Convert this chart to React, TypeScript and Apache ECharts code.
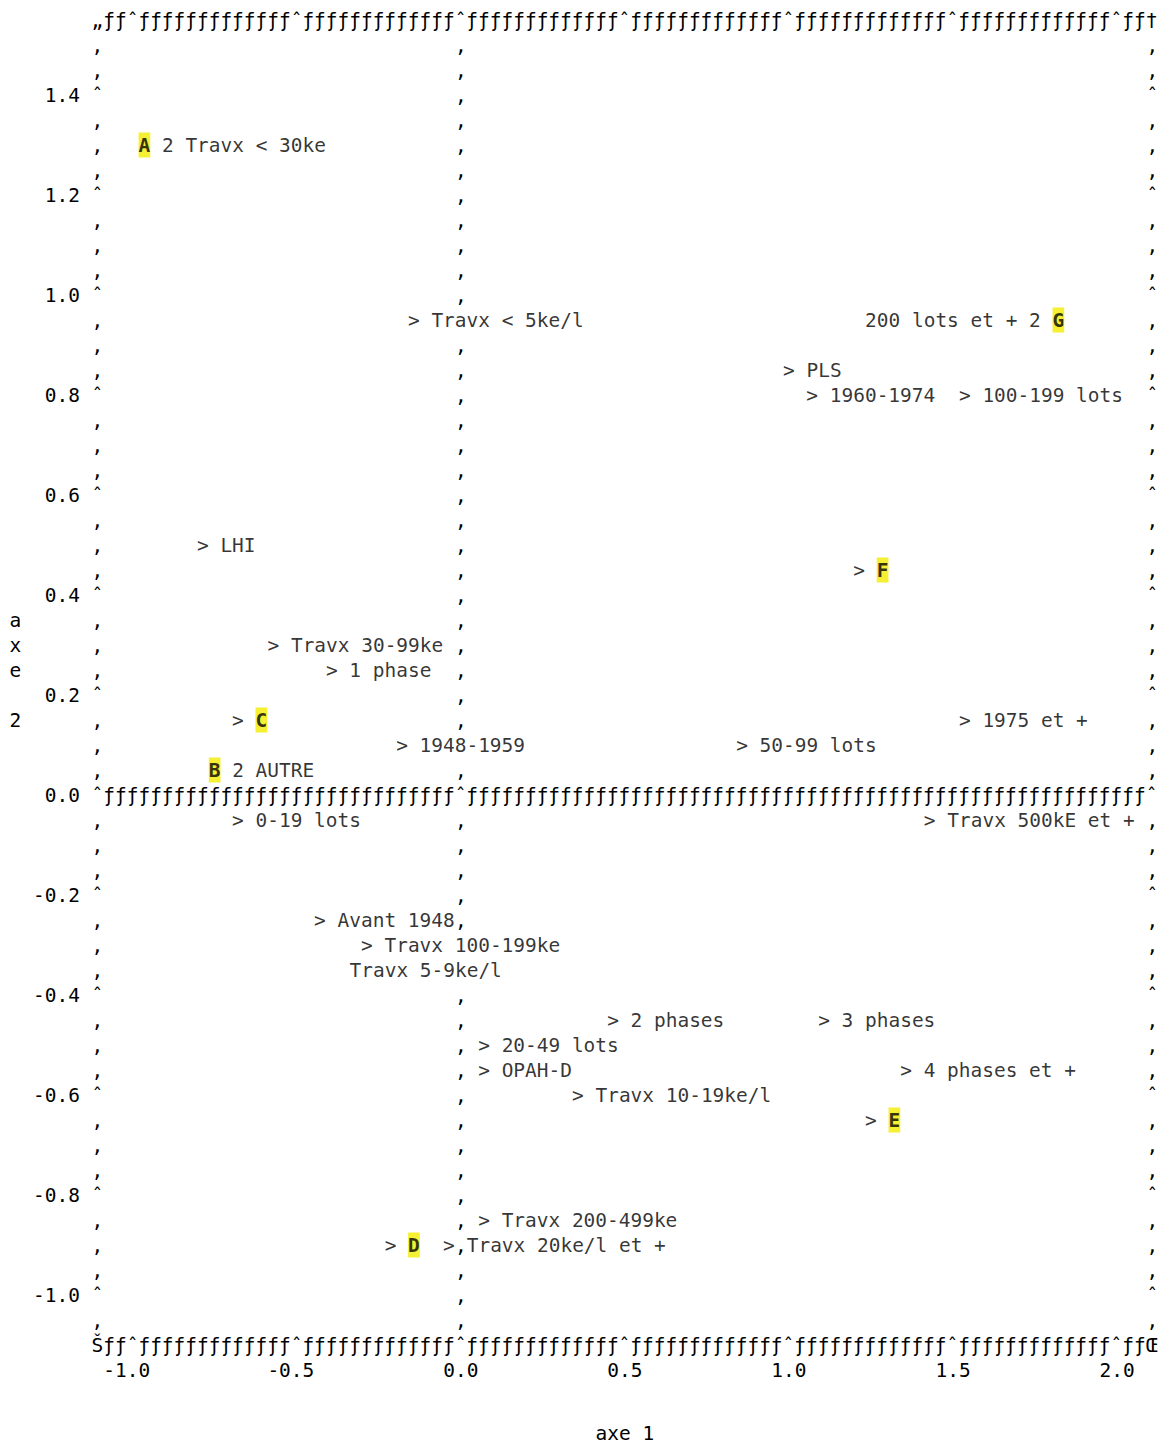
import { useEffect, useRef } from 'react';
import * as echarts from 'echarts';

// ---- axes (data units) ----
const X_MIN = -1.0;
const X_MAX = 2.0;
const X_STEP = 0.5;
const Y_MIN = -1.0;
const Y_MAX = 1.4;
const Y_STEP = 0.2;
const X_TITLE = 'axe 1';
const Y_TITLE = 'axe 2';

// ---- plotted modalities: symbol + label text, [X] = highlighted group letter ----
const POINT_LABELS = [
  '[A] 2 Travx < 30ke',
  '> Travx < 5ke/l',
  '200 lots et + 2 [G]',
  '> PLS',
  '> 1960-1974',
  '> 100-199 lots',
  '> LHI',
  '> [F]',
  '> Travx 30-99ke',
  '> 1 phase',
  '> [C]',
  '> 1975 et +',
  '> 1948-1959',
  '> 50-99 lots',
  '[B] 2 AUTRE',
  '> 0-19 lots',
  '> Travx 500kE et +',
  '> Avant 1948',
  '> Travx 100-199ke',
  'Travx 5-9ke/l',
  '> 2 phases',
  '> 3 phases',
  '> 20-49 lots',
  '> OPAH-D',
  '> 4 phases et +',
  '> Travx 10-19ke/l',
  '> [E]',
  '> Travx 200-499ke',
  '> [D]',
  '>',
  'Travx 20ke/l et +',
];
const POINT_X = [
  -0.964, -0.143, 1.821, 1.0, 1.071, 1.536, -0.786, 1.214, -0.571, -0.393,
  -0.679, 1.536, -0.179, 0.857, -0.75, -0.679, 1.429, -0.429, -0.286, -0.321,
  0.464, 1.107, 0.071, 0.071, 1.357, 0.357, 1.25, 0.071, -0.214, -0.036,
  0.036,
];
const POINT_Y = [
  1.3, 0.95, 0.95, 0.85, 0.8, 0.8, 0.5, 0.45, 0.3, 0.25,
  0.15, 0.15, 0.1, 0.1, 0.05, -0.05, -0.05, -0.25, -0.3, -0.35,
  -0.45, -0.45, -0.5, -0.55, -0.55, -0.6, -0.65, -0.85, -0.9, -0.9,
  -0.9,
];

// ---- text-plot geometry: one character column / one text row in data units ----
const COL = 1 / 28;
const ROW = 0.05;
const FRAME_L = X_MIN - 3 * COL;
const FRAME_R = X_MAX + 3 * COL;
const FRAME_T = Y_MAX + 3 * ROW;
const FRAME_B = Y_MIN - 2 * ROW;

// ---- styling ----
const FONT_FAMILY = '"DejaVu Sans Mono", monospace';
const FS = 19.47;
const CW = 11.72; // character width in px
const LINE_H = 25;
const HL = '#f3ec00';

type FrameItem = { x: number; y: number; text: string; anchor: 'left' | 'center' };

const plainText = (s: string) => s.replace(/[\[\]]/g, '');
// a label written before its symbol (e.g. "... 2 [G]") is anchored on its last character
const labelBefore = (s: string) => !s.startsWith('>') && !s.startsWith('[') && s.endsWith(']');
const colOf = (v: number) => Math.round((v - FRAME_L) / COL);
const rowOf = (v: number) => Math.round((FRAME_T - v) / ROW);

function buildFrame(): FrameItem[] {
  const nCols = colOf(FRAME_R) + 1;
  const nRows = rowOf(FRAME_B) + 1;
  const ticks: number[] = [];
  for (let v = X_MIN; v <= X_MAX + 1e-9; v += X_STEP) ticks.push(colOf(v));
  const zeroCol = colOf(0);
  // rows where a label's characters overwrite the x = 0 reference line
  const covered = new Set<number>();
  POINT_LABELS.forEach((lab, i) => {
    const len = plainText(lab).length;
    const c = colOf(POINT_X[i]);
    const start = labelBefore(lab) ? c - len + 1 : c;
    if (zeroCol >= start && zeroCol <= start + len - 1) covered.add(rowOf(POINT_Y[i]));
  });
  const rule = (first: string, last: string, tickCols: number[]) => {
    let s = first;
    for (let c = 1; c < nCols - 1; c++) s += tickCols.includes(c) ? '\u02C6' : '\u0192';
    return s + last;
  };
  const items: FrameItem[] = [];
  items.push({ x: FRAME_L, y: FRAME_T, text: rule('\u201E', '\u2020', ticks), anchor: 'left' });
  items.push({ x: FRAME_L, y: FRAME_B, text: rule('\u0160', '\u0152', ticks), anchor: 'left' });
  items.push({ x: FRAME_L, y: 0, text: rule('\u02C6', '\u02C6', [zeroCol]), anchor: 'left' });
  for (let k = 1; k < nRows - 1; k++) {
    const y = FRAME_T - k * ROW;
    if (Math.abs(y) < 1e-9) continue;
    const q = y / Y_STEP;
    const isTick = Math.abs(q - Math.round(q)) < 1e-6;
    const ch = isTick ? '\u02C6' : '\u201A';
    items.push({ x: FRAME_L, y, text: ch, anchor: 'center' });
    items.push({ x: FRAME_R, y, text: ch, anchor: 'center' });
    if (!covered.has(k)) items.push({ x: 0, y, text: '\u201A', anchor: 'center' });
  }
  return items;
}

const toRich = (s: string) => s.replace(/\[(\w)\]/g, '{h|$1}');

export default function App() {
  const ref = useRef<HTMLDivElement>(null);
  useEffect(() => {
    if (!ref.current) return;
    const chart = echarts.init(ref.current, null, { renderer: 'svg' });
    const frame = buildFrame();
    const baseText = { fontFamily: FONT_FAMILY, fontSize: FS, color: '#000' };

    const pointData = POINT_LABELS.map((lab, i) => {
      const before = labelBefore(lab);
      return {
        value: [POINT_X[i], POINT_Y[i]],
        name: plainText(lab),
        label: {
          show: true,
          position: 'inside',
          align: before ? 'right' : 'left',
          verticalAlign: 'middle',
          offset: [before ? CW / 2 : -CW / 2, 0],
          formatter: toRich(lab),
          ...baseText,
          lineHeight: LINE_H,
          padding: 0,
          rich: {
            h: {
              ...baseText,
              fontWeight: 'bold',
              backgroundColor: HL,
              lineHeight: LINE_H,
              height: LINE_H,
              padding: 0,
            },
          },
        },
      };
    });

    chart.setOption({
      animation: false,
      backgroundColor: '#ffffff',
      grid: {
        left: 132.6,
        right: 46.9,
        top: 95,
        bottom: 148,
        containLabel: false,
        outerBoundsMode: 'none',
      },
      xAxis: {
        type: 'value',
        min: X_MIN,
        max: X_MAX,
        interval: X_STEP,
        axisLine: { show: false },
        axisTick: { show: false },
        splitLine: { show: false },
        axisLabel: {
          ...baseText,
          margin: 75,
          verticalAlign: 'middle',
          showMinLabel: true,
          showMaxLabel: true,
          hideOverlap: false,
          formatter: (v: number) => {
            const s = (Math.abs(v) < 1e-9 ? 0 : v).toFixed(1);
            return v < -1e-9 ? `{n|${s}}` : s;
          },
          rich: { n: { ...baseText, padding: [0, CW, 0, 0] } },
        },
        name: X_TITLE,
        nameLocation: 'middle',
        nameGap: 138,
        nameTextStyle: { ...baseText, verticalAlign: 'middle' },
      },
      yAxis: {
        type: 'value',
        min: Y_MIN,
        max: Y_MAX,
        interval: Y_STEP,
        axisLine: { show: false },
        axisTick: { show: false },
        splitLine: { show: false },
        axisLabel: {
          ...baseText,
          margin: 52.7,
          align: 'right',
          verticalAlign: 'middle',
          showMinLabel: true,
          showMaxLabel: true,
          formatter: (v: number) => (Math.abs(v) < 1e-9 ? 0 : v).toFixed(1),
        },
        // one character per text row, as in the listing; two trailing blank rows lift it by one row
        name: Y_TITLE.split('').join('\n') + '\n \n ',
        nameLocation: 'middle',
        nameRotate: 0,
        nameGap: 117.2,
        nameTextStyle: {
          ...baseText,
          align: 'center',
          verticalAlign: 'middle',
          lineHeight: LINE_H,
        },
      },
      series: [
        {
          type: 'custom',
          name: 'cadre',
          silent: true,
          clip: false,
          z: 1,
          data: frame.map((f) => [f.x, f.y]),
          renderItem: (params: any, api: any) => {
            const f = frame[params.dataIndex];
            const p = api.coord([api.value(0), api.value(1)]);
            return {
              type: 'text',
              x: f.anchor === 'left' ? p[0] - CW / 2 : p[0],
              y: p[1],
              style: {
                text: f.text,
                fontFamily: FONT_FAMILY,
                fontSize: FS,
                fill: '#000',
                align: f.anchor === 'left' ? 'left' : 'center',
                verticalAlign: 'middle',
              },
            };
          },
        },
        {
          type: 'scatter',
          name: 'modalites',
          silent: true,
          clip: false,
          z: 5,
          symbol: 'circle',
          symbolSize: 0,
          itemStyle: { color: 'rgba(0,0,0,0)' },
          data: pointData,
        },
      ],
    });
    return () => chart.dispose();
  }, []);
  return (
    <div
      ref={ref}
      style={{ position: 'absolute', left: 0, top: 0, width: 1164, height: 1443, background: '#fff' }}
    />
  );
}
